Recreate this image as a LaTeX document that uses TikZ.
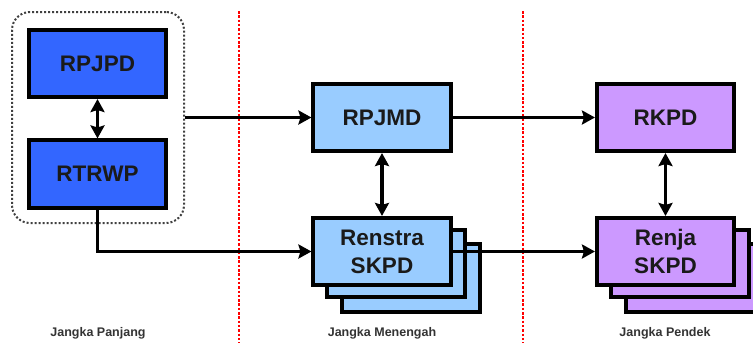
\documentclass[tikz,border=0pt]{standalone}
\usepackage{fontspec}
\setmainfont{Liberation Sans}
\usetikzlibrary{arrows.meta,positioning,fit}
\definecolor{cblue}{HTML}{3366FF}
\definecolor{clight}{HTML}{99CCFF}
\definecolor{cpurple}{HTML}{CC99FF}
\definecolor{ctext}{HTML}{1A1A1A}
\tikzset{
  box/.style={draw=black, line width=3.6pt, minimum width=137.5pt, minimum height=67.5pt,
    inner sep=0pt, font=\fontsize{22.5}{28}\selectfont\bfseries, text=ctext, align=center},
  tip/.style={Stealth[length=13pt,width=14pt,inset=2pt]},
  conn/.style={line width=3.8pt, -{Stealth[length=13pt,width=14pt,inset=2pt]}},
  biconn/.style={line width=3.8pt, {Stealth[length=13pt,width=14pt,inset=2pt]}-{Stealth[length=13pt,width=14pt,inset=2pt]}},
  divider/.style={red, line width=2.4pt, dash pattern=on 2.5pt off 1.8pt},
  period/.style={font=\fontsize{12.5}{14}\selectfont\bfseries, text=black!80},
}
\begin{document}
\begin{tikzpicture}[x=1pt,y=-1pt]
\useasboundingbox (0,0) rectangle (753,343);
% dividers
\coordinate (d1t) at (239,11); \coordinate (d1b) at (239,343);
\coordinate (d2t) at (523,11); \coordinate (d2b) at (523,343);
\draw[divider] (d1t) -- (d1b);
\draw[divider] (d2t) -- (d2b);
% long term group
\node[draw=black!75, line width=2pt, dash pattern=on 2pt off 2pt, rounded corners=18pt, minimum width=172pt, minimum height=211pt, inner sep=0pt] (lp) at (98,117.5) {};
\node[box, fill=cblue] (rpjpd) at (97.5,63.5) {RPJPD};
\node[box, fill=cblue] (rtrwp) at (97.5,174) {RTRWP};
% medium term
\node[box, fill=clight] (rpjmd) at (382,117.5) {RPJMD};
\node[box, fill=clight] (rs3) at (411,278) {};
\node[box, fill=clight] (rs2) at (396,263.5) {};
\node[box, fill=clight] (renstra) at (382,251.5) {Renstra\\SKPD};
% short term
\node[box, fill=cpurple] (rkpd) at (665.5,117.5) {RKPD};
\node[box, fill=cpurple] (rj3) at (694.5,278) {};
\node[box, fill=cpurple] (rj2) at (680,263.5) {};
\node[box, fill=cpurple] (renja) at (665.5,251.5) {Renja\\SKPD};
% connectors
\draw[biconn] (rpjpd.south) -- (rtrwp.north);
\draw[biconn] (rpjmd.south) -- (renstra.north);
\draw[biconn] (rkpd.south) -- (renja.north);
\draw[conn] (lp.east) -- (rpjmd.west);
\draw[conn] (rpjmd.east) -- (rkpd.west);
\draw[conn] (rtrwp.south) |- (renstra.west);
\draw[conn] (renstra.east) -- (renja.west);
% period labels
\node[period] (lbl1) at (98,333) {Jangka Panjang};
\node[period] (lbl2) at (382,333) {Jangka Menengah};
\node[period] (lbl3) at (665,333) {Jangka Pendek};
\end{tikzpicture}
\end{document}
